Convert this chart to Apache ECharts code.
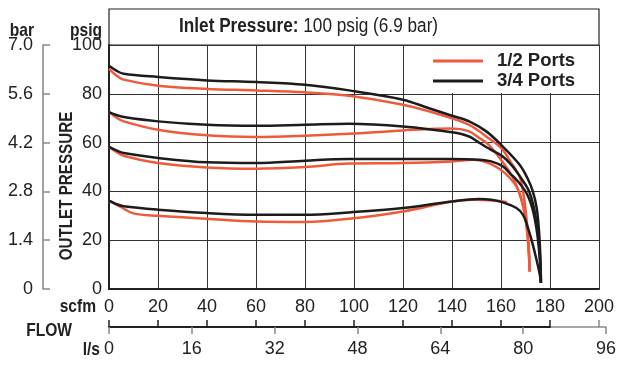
<!DOCTYPE html>
<html>
<head>
<meta charset="utf-8">
<script src="https://cdn.jsdelivr.net/npm/echarts@6/dist/echarts.min.js"></script>
<style>
html,body{margin:0;padding:0;background:#fff;}
#c{width:622px;height:372px;}
</style>
</head>
<body>
<div id="c"></div>
<script>
// ---- data (scfm, psig) ----
const half_A = [[0,90.2],[3,87.5],[6,85.8],[20,83.3],[40,82],[60,81.4],[80,80.6],[98,79.2],[120,75.5],[135,71.5],[147,67.3],[154,62.5],[160,57.8],[164,52],[167.6,46.1],[169.3,38],[170.3,30],[171,22],[171.5,14],[171.7,7.2]];
const half_B = [[0,72.5],[3,70.3],[6,68.7],[20,65.3],[40,63],[60,62.3],[80,62.8],[98,63.6],[120,65],[140,65.8],[146.5,64.8],[151,62],[155,59.1],[160,53],[164.7,46],[167.2,40],[169,34],[170.2,28],[171,20],[171.5,12],[171.7,7.2]];
const half_C = [[0,58.2],[3,56.2],[6,54.6],[20,51.6],[40,49.8],[60,49.3],[80,50],[98,51.4],[120,51.6],[140,52.3],[148.6,53],[155,51.6],[160.8,48.2],[164.5,44.5],[166.3,42],[168,38],[169.3,33],[170.4,26],[171.2,18],[171.6,10],[171.7,7.2]];
const half_D = [[0,36.2],[5,33.5],[10,31],[20,30],[40,28.8],[60,27.7],[80,27.5],[98,28.8],[120,31.8],[140,35.9],[148.6,36.6],[157,36.3],[162.5,35.6]];

const threeQ_A = [[0,91.5],[3,89.5],[6,88.2],[20,86.9],[40,85.5],[60,84.8],[80,83.7],[98,81.4],[120,77.6],[130,74.3],[140,71],[147,68.7],[154,64.6],[160,59.1],[167.6,50.9],[171,45],[173,40],[174.6,33],[175.5,24],[176,15],[176.2,8],[176.3,2.5]];
const threeQ_B = [[0,72.5],[3,71.3],[6,70.5],[20,68.7],[40,67.3],[60,66.9],[80,67.3],[98,67.7],[120,66.6],[140,64.2],[147,62.5],[151,60],[156,57],[160.5,54.5],[164.5,50.5],[168.5,45],[171.5,40],[173.5,33],[175,24],[175.8,15],[176.2,8],[176.3,2.5]];
const threeQ_C = [[0,58.2],[3,56.8],[6,55.7],[20,53.7],[40,51.9],[60,51.6],[80,52.6],[98,53.3],[120,53.3],[140,53.3],[151,53],[156,52.3],[160.8,50.2],[164,47],[166.3,44.8],[170.4,39.3],[172.8,33],[174.6,24],[175.6,15],[176.1,8],[176.3,2.5]];
const threeQ_D = [[0,36.2],[3,34.8],[6,33.9],[20,32.5],[40,31.1],[60,30.4],[80,30.4],[98,31.4],[120,33.2],[140,35.9],[151,36.9],[156,36.6],[160.8,35.5],[166.3,33.2],[169,30.4],[170.8,25.7],[172.5,20],[174.5,12],[175.8,6],[176.3,2.5]];

const legendNames = ['1/2 Ports','3/4 Ports'];
const scfmTicks = {min:0, max:200, interval:20};
const psigTicks = {min:0, max:100, interval:20};
const barTicks = {min:0, max:7, interval:1.4};
const lpsTicks = {min:0, max:96, interval:16};

const FONT = "'Liberation Sans',Arial,sans-serif";
const RED = '#f05a3c';
const BLK = '#1c1c1c';
const INK = '#222';

const chart = echarts.init(document.getElementById('c'));

function ser(name, color, data){
  return {type:'line', name, data, xAxisIndex:0, yAxisIndex:0, symbol:'none', showSymbol:false,
    smooth:0.35, color, itemStyle:{color}, lineStyle:{color, width:2.5},
    emphasis:{disabled:true}, silent:true};
}
function hiddenX(g){return {type:'value', gridIndex:g, show:false, min:0, max:1};}
function hiddenY(g){return {type:'value', gridIndex:g, show:false, min:0, max:1};}
function label(text, x, y, size, bold, align, sx, extra){
  return Object.assign({type:'text', x, y, scaleX:sx, scaleY:1, z:50,
    style:{text, fontSize:size, fontWeight:bold?'bold':'normal', fontFamily:FONT, fill:INK, align, verticalAlign:'middle'}}, extra||{});
}

const option = {
  animation:false,
  textStyle:{fontFamily:FONT},
  grid:[
    {left:109, right:23, top:45, bottom:83},
    {left:109, right:23, top:9, height:36, show:true, borderColor:INK, borderWidth:1.2, backgroundColor:'transparent'},
    {left:43, width:10, top:45, bottom:83},
    {left:109, width:497, bottom:45, height:10},
    {left:109, width:441, bottom:45, height:10},
    {left:109, width:497, bottom:45, height:10}
  ],
  xAxis:[
    {type:'value', gridIndex:0, min:scfmTicks.min, max:scfmTicks.max, interval:scfmTicks.interval,
     axisLine:{show:true, lineStyle:{color:INK, width:2}}, axisTick:{show:false},
     axisLabel:{fontSize:18, color:INK, margin:9, fontFamily:FONT},
     splitLine:{show:true, lineStyle:{color:'#333', width:1}}},
    hiddenX(1), hiddenX(2),
    {type:'value', gridIndex:3, position:'bottom', min:lpsTicks.min, max:lpsTicks.max, interval:lpsTicks.interval,
     axisLine:{show:true, lineStyle:{color:'#8a8a8a', width:1.6}},
     axisTick:{show:true, inside:false, length:7, lineStyle:{color:'#8a8a8a', width:1.5}},
     axisLabel:{fontSize:18, color:INK, margin:13, fontFamily:FONT}, splitLine:{show:false}},
    {type:'value', gridIndex:4, position:'bottom', min:0, max:180, interval:20,
     axisLine:{show:true, lineStyle:{color:INK, width:1.8}},
     axisTick:{show:true, inside:true, length:7, lineStyle:{color:INK, width:1.5}},
     axisLabel:{show:false}, splitLine:{show:false}},
    {type:'value', gridIndex:5, position:'bottom', min:0, max:497/2.45,
     axisLine:{show:false},
     axisTick:{show:true, inside:true, length:7, customValues:[200], lineStyle:{color:'#8a8a8a', width:1.5}},
     axisLabel:{show:false}, splitLine:{show:false}}
  ],
  yAxis:[
    {type:'value', gridIndex:0, min:psigTicks.min, max:psigTicks.max, interval:psigTicks.interval,
     axisLine:{show:true, lineStyle:{color:INK, width:2}}, axisTick:{show:false},
     axisLabel:{fontSize:18, color:INK, margin:7, fontFamily:FONT},
     splitLine:{show:true, lineStyle:{color:'#333', width:1}}},
    hiddenY(1),
    {type:'value', gridIndex:2, min:barTicks.min, max:barTicks.max, interval:barTicks.interval,
     axisLine:{show:true, lineStyle:{color:'#8a8a8a', width:1.6}},
     axisTick:{show:true, inside:true, length:7, lineStyle:{color:'#8a8a8a', width:1.5}},
     axisLabel:{fontSize:18, color:INK, margin:10, fontFamily:FONT,
       formatter:v => (Math.abs(v) < 1e-9 ? '0' : (Math.round(v*10)/10).toFixed(1))},
     splitLine:{show:false}},
    hiddenY(3), hiddenY(4), hiddenY(5)
  ],
  legend:{
    data:legendNames, orient:'vertical', left:415, top:46, padding:[5,12,2,18],
    backgroundColor:'#fff', itemWidth:50, itemHeight:3, itemGap:0, icon:'rect', selectedMode:false,
    textStyle:{fontSize:18.5, fontWeight:'bold', color:INK, lineHeight:20, fontFamily:FONT, padding:[0,0,0,9]}
  },
  graphic:[
    {type:'text', x:179, y:26, scaleX:0.86, z:50, style:{text:'{b|Inlet Pressure:} 100 psig (6.9 bar)', fontSize:20, fontFamily:FONT, fill:INK,
      verticalAlign:'middle', align:'left', rich:{b:{fontWeight:'bold', fontSize:20, fontFamily:FONT, fill:INK}}}},
    label('bar', 34, 31, 19, true, 'right', 0.82),
    label('psig', 102, 31, 19, true, 'right', 0.82),
    label('scfm', 96, 307, 19, true, 'right', 0.82),
    label('FLOW', 72, 331, 19, true, 'right', 0.82),
    label('l/s', 100, 350, 19, true, 'right', 0.82),
    label('OUTLET PRESSURE', 67, 186, 19, true, 'center', 0.8, {rotation:Math.PI/2})
  ],
  series:[
    ser(legendNames[0], RED, half_A),
    ser(legendNames[0], RED, half_B),
    ser(legendNames[0], RED, half_C),
    ser(legendNames[0], RED, half_D),
    ser(legendNames[1], BLK, threeQ_A),
    ser(legendNames[1], BLK, threeQ_B),
    ser(legendNames[1], BLK, threeQ_C),
    ser(legendNames[1], BLK, threeQ_D)
  ]
};
chart.setOption(option);
</script>
</body>
</html>
